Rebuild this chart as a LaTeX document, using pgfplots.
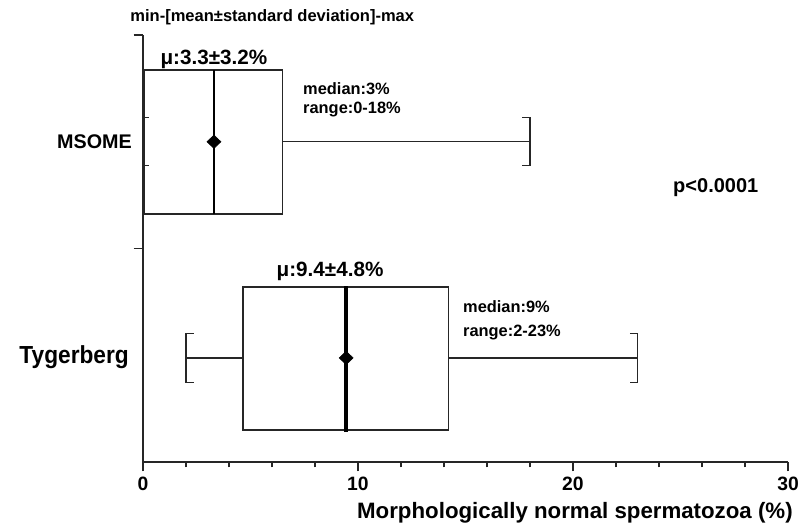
\documentclass[border=0pt]{standalone}
\usepackage{fontspec}
\setmainfont{Liberation Sans}
\usepackage{pgfplots}
\pgfplotsset{compat=1.18}
\begin{document}
\begin{tikzpicture}[every node/.append style={inner sep=0pt}]
\begin{axis}[
  at={(0,0)}, anchor=south west,
  scale only axis, width=483.75pt, height=320.25pt,
  xmin=0, xmax=30, ymin=0, ymax=4,
  axis lines=left, axis line style={-, line width=1.1pt, black!85},
  clip=false,
  xtick={0,10,20,30}, minor xtick={2,4,6,8,12,14,16,18,22,24,26,28},
  ytick={2,4}, yticklabels={},
  tick align=outside,
  major tick length=7pt, minor tick length=4pt,
  tick style={line width=1.1pt, black!85},
  extra y ticks={2.775,3.225}, extra y tick labels={},
  extra y tick style={tick align=inside, major tick length=4.5pt, tick style={line width=0.8pt}},
  xticklabel style={font=\fontsize{14.5}{16}\selectfont\bfseries, inner sep=2pt, yshift=-2pt},
  /pgf/number format/assume math mode=true,
]
% MSOME
\addplot[black!85, line width=1.1pt] coordinates {(0.05,2.323) (6.5,2.323) (6.5,3.672) (0.05,3.672)} -- cycle;
\addplot[black!85, line width=0.9pt] coordinates {(6.5,3.0) (18,3.0)};
\addplot[black!85, line width=0.9pt] coordinates {(17.65,3.225) (18,3.225) (18,2.775) (17.65,2.775)};
\addplot[black, line width=1.5pt] coordinates {(3.3,2.323) (3.3,3.672)};
% Tygerberg
\addplot[black!85, line width=1.1pt] coordinates {(4.65,0.30) (14.2,0.30) (14.2,1.64) (4.65,1.64)} -- cycle;
\addplot[black!85, line width=0.9pt] coordinates {(2,0.975) (4.65,0.975)};
\addplot[black!85, line width=0.9pt] coordinates {(14.2,0.975) (23,0.975)};
\addplot[black!85, line width=0.9pt] coordinates {(2.35,1.205) (2,1.205) (2,0.745) (2.35,0.745)};
\addplot[black!85, line width=0.9pt] coordinates {(22.65,1.205) (23,1.205) (23,0.745) (22.65,0.745)};
\addplot[black, line width=2.6pt] coordinates {(9.45,0.28) (9.45,1.645)};
% means
\addplot[only marks, mark=diamond*, mark size=5pt, mark options={xscale=1.4, black, fill=black}] coordinates {(3.3,3.0) (9.45,0.975)};
% texts
\node[anchor=base west, font=\fontsize{12.4}{14}\selectfont\bfseries] at (axis cs:-0.6,4.125) {min-[mean±standard deviation]-max};
\node[anchor=base, font=\fontsize{15.5}{17}\selectfont\bfseries] at (axis cs:3.3,3.719) {μ:3.3±3.2\%};
\node[anchor=base, font=\fontsize{15.5}{17}\selectfont\bfseries] at (axis cs:8.7,1.742) {μ:9.4±4.8\%};
\node[anchor=base west, font=\fontsize{12.3}{14}\selectfont\bfseries] at (axis cs:7.44,3.438) {median:3\%};
\node[anchor=base west, font=\fontsize{12.3}{14}\selectfont\bfseries] at (axis cs:7.44,3.269) {range:0-18\%};
\node[anchor=base west, font=\fontsize{12.3}{14}\selectfont\bfseries] at (axis cs:14.88,1.405) {median:9\%};
\node[anchor=base west, font=\fontsize{12.3}{14}\selectfont\bfseries] at (axis cs:14.88,1.171) {range:2-23\%};
\node[anchor=base west, font=\fontsize{15}{17}\selectfont\bfseries] at (axis cs:24.65,2.52) {p<0.0001};
\node[anchor=east, font=\fontsize{14.8}{16}\selectfont\bfseries] at (axis cs:-0.51,3.0) {MSOME};
\node[anchor=east, xscale=0.92, transform shape, font=\fontsize{18.5}{20}\selectfont\bfseries] at (axis cs:-0.65,0.98) {Tygerberg};
\node[anchor=base east, font=\fontsize{16.7}{18}\selectfont\bfseries] at (axis cs:30.23,-0.525) {Morphologically normal spermatozoa (\%)};
\end{axis}
\pgfresetboundingbox
\path[use as bounding box] (-107.25pt,-49.5pt) rectangle (492pt,346.5pt);
\end{tikzpicture}
\end{document}
